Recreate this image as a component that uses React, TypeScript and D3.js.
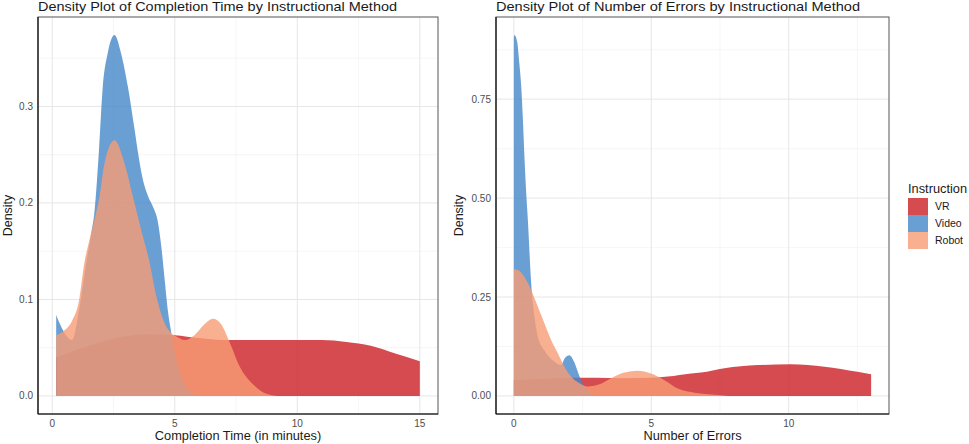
import * as d3 from 'd3';

// instruction groups, drawn in this order (later ones on top)
const groups = ['VR', 'Video', 'Robot'];
const groupColors = ['#cc1e24', '#4587c8', '#f79c74'];
const fillAlpha = 0.8;

// completion time densities
const timeVRX = [0.16, 1, 2, 3, 4, 5, 6, 7, 8, 9, 10, 11, 12, 13, 14, 15];
const timeVRY = [0.04, 0.048, 0.056, 0.062, 0.064, 0.063, 0.06, 0.058, 0.058, 0.058, 0.058, 0.058, 0.056, 0.052, 0.044, 0.036];

const timeVideoX = [0.16, 0.4, 0.81, 1.1, 1.4, 1.6, 1.72, 1.9, 2.06, 2.26, 2.54, 2.81, 3.09, 3.36, 3.5, 3.7, 3.91, 4.11, 4.32, 4.45, 4.59, 4.73, 4.84, 5.0, 5.3, 5.6, 5.9, 7.0, 9.3];
const timeVideoY = [0.084, 0.07, 0.058, 0.09, 0.14, 0.17, 0.19, 0.252, 0.32, 0.355, 0.374, 0.355, 0.32, 0.276, 0.252, 0.224, 0.207, 0.196, 0.179, 0.155, 0.12, 0.086, 0.068, 0.045, 0.018, 0.005, 0.001, 0, 0];

const timeRobotX = [0.16, 0.5, 0.81, 1.1, 1.31, 1.52, 1.79, 1.93, 2.13, 2.54, 2.95, 3.29, 3.63, 3.98, 4.25, 4.59, 4.86, 5.1, 5.4, 5.8, 6.2, 6.56, 6.9, 7.25, 7.66, 8.2, 8.77, 9.2];
const timeRobotY = [0.063, 0.068, 0.078, 0.1, 0.138, 0.162, 0.19, 0.207, 0.241, 0.265, 0.241, 0.207, 0.172, 0.1375, 0.103, 0.075, 0.065, 0.061, 0.058, 0.063, 0.074, 0.08, 0.074, 0.055, 0.03, 0.012, 0.002, 0];

// number of errors densities
const errVRX = [0, 1, 2, 2.56, 3, 4, 5, 5.6, 6.45, 6.81, 7.66, 8.87, 10.08, 11.3, 12.5, 13];
const errVRY = [0.04, 0.043, 0.046, 0.046, 0.046, 0.045, 0.046, 0.049, 0.057, 0.059, 0.07, 0.078, 0.08, 0.074, 0.061, 0.055];

const errVideoX = [0, 0.02, 0.12, 0.2, 0.27, 0.33, 0.39, 0.45, 0.51, 0.63, 0.75, 0.87, 1.1, 1.47, 1.72, 1.85, 2.02, 2.2, 2.39, 2.5, 2.7, 3.0, 3.3, 5, 7.85];
const errVideoY = [0.905, 0.912, 0.895, 0.84, 0.78, 0.697, 0.596, 0.512, 0.444, 0.285, 0.2, 0.15, 0.116, 0.087, 0.078, 0.095, 0.103, 0.085, 0.049, 0.032, 0.012, 0.002, 0, 0, 0];

const errRobotX = [0, 0.02, 0.15, 0.39, 0.63, 0.87, 1.11, 1.36, 1.6, 1.84, 2.08, 2.39, 2.69, 3.05, 3.54, 4.02, 4.5, 4.99, 5.48, 5.96, 6.45, 6.8, 7.3, 7.8];
const errRobotY = [0.318, 0.32, 0.318, 0.3, 0.268, 0.226, 0.184, 0.141, 0.108, 0.074, 0.049, 0.032, 0.024, 0.028, 0.045, 0.059, 0.064, 0.057, 0.04, 0.019, 0.01, 0.006, 0.003, 0];

// axis ticks
const timeXTicks = [0, 5, 10, 15];
const timeYTicks = [0, 0.1, 0.2, 0.3];
const errXTicks = [0, 5, 10];
const errYTicks = [0, 0.25, 0.5, 0.75];

const FONT = '"Liberation Sans", Arial, sans-serif';
const W = 969;
const H = 444;

type Pt = [number, number];

const zip = (xs: number[], ys: number[]): Pt[] => xs.map((x, i) => [x, ys[i]]);

// ggplot style 5% expansion
const expand = (lo: number, hi: number): [number, number] => {
  const pad = (hi - lo) * 0.05;
  return [lo - pad, hi + pad];
};

// minor breaks halfway between majors, kept inside the domain
const minors = (ticks: number[], domain: [number, number]) => {
  const step = ticks[1] - ticks[0];
  const out: number[] = [];
  for (let v = ticks[0] - step / 2; v <= domain[1]; v += step) {
    if (v >= domain[0]) out.push(v);
  }
  return out;
};

type PanelProps = {
  x0: number;
  x1: number;
  y0: number;
  y1: number;
  title: string;
  titleWidth: number;
  xLabel: string;
  series: Pt[][];
  xTicks: number[];
  yTicks: number[];
  yFormat: string;
  yTitleX: number;
};

function Panel({ x0, x1, y0, y1, title, titleWidth, xLabel, series, xTicks, yTicks, yFormat, yTitleX }: PanelProps) {
  const all = series.flat();
  const xExt = d3.extent(all, (d) => d[0]) as [number, number];
  const yMax = d3.max(all, (d) => d[1]) as number;
  const xDom = expand(xExt[0], xExt[1]);
  const yDom = expand(0, yMax);

  const xScale = d3.scaleLinear().domain(xDom).range([x0, x1]);
  const yScale = d3.scaleLinear().domain(yDom).range([y1, y0]);

  const areaGen = d3
    .area<Pt>()
    .x((d) => xScale(d[0]))
    .y0(() => yScale(0))
    .y1((d) => yScale(d[1]))
    .curve(d3.curveMonotoneX);

  const fmt = d3.format(yFormat);

  return (
    <g>
      {/* minor grid */}
      {minors(xTicks, xDom).map((v) => (
        <line key={'mx' + v} x1={xScale(v)} x2={xScale(v)} y1={y0} y2={y1} stroke='#f0f0f0' strokeWidth={0.6} />
      ))}
      {minors(yTicks, yDom).map((v) => (
        <line key={'my' + v} x1={x0} x2={x1} y1={yScale(v)} y2={yScale(v)} stroke='#f0f0f0' strokeWidth={0.6} />
      ))}
      {/* major grid */}
      {xTicks.map((v) => (
        <line key={'gx' + v} x1={xScale(v)} x2={xScale(v)} y1={y0} y2={y1} stroke='#e6e6e6' strokeWidth={1} />
      ))}
      {yTicks.map((v) => (
        <line key={'gy' + v} x1={x0} x2={x1} y1={yScale(v)} y2={yScale(v)} stroke='#e6e6e6' strokeWidth={1} />
      ))}

      {series.map((pts, i) => (
        <path key={groups[i]} d={areaGen(pts) ?? ''} fill={groupColors[i]} fillOpacity={fillAlpha} />
      ))}

      {/* border */}
      <rect x={x0} y={y0} width={x1 - x0} height={y1 - y0} fill='none' stroke='#555' strokeWidth={1} />
      <line x1={x0} x2={x0} y1={y0} y2={y1} stroke='#111' strokeWidth={1.2} />
      <line x1={x0} x2={x1} y1={y1} y2={y1} stroke='#111' strokeWidth={1.2} />

      {/* tick labels */}
      {xTicks.map((v) => (
        <text key={'tx' + v} x={xScale(v)} y={427} textAnchor='middle' fontSize={10} fill='#4d4d4d'>
          {v}
        </text>
      ))}
      {yTicks.map((v) => (
        <text key={'ty' + v} x={x0 - 5} y={yScale(v) + 3.5} textAnchor='end' fontSize={10} fill='#4d4d4d'>
          {fmt(v)}
        </text>
      ))}

      <text x={x0} y={10.5} fontSize={13.5} fill='#1a1a1a' textLength={titleWidth} lengthAdjust='spacingAndGlyphs'>
        {title}
      </text>
      <text x={(x0 + x1) / 2} y={440} textAnchor='middle' fontSize={12.8} fill='#1a1a1a'>
        {xLabel}
      </text>
      <text transform={`translate(${yTitleX},${(y0 + y1) / 2}) rotate(-90)`} textAnchor='middle' fontSize={12.5} fill='#1a1a1a'>
        Density
      </text>
    </g>
  );
}

export default function App() {
  const timeSeries = [zip(timeVRX, timeVRY), zip(timeVideoX, timeVideoY), zip(timeRobotX, timeRobotY)];
  const errSeries = [zip(errVRX, errVRY), zip(errVideoX, errVideoY), zip(errRobotX, errRobotY)];

  const legendY = d3.scaleBand<string>().domain(groups).range([198, 249]);

  return (
    <div style={{ position: 'absolute', left: 0, top: 0 }}>
      <svg width={W} height={H} style={{ display: 'block', fontFamily: FONT }}>
        <rect width={W} height={H} fill='#fff' />
        <Panel
          x0={38}
          x1={438}
          y0={17}
          y1={414}
          title='Density Plot of Completion Time by Instructional Method'
          titleWidth={359}
          xLabel='Completion Time (in minutes)'
          series={timeSeries}
          xTicks={timeXTicks}
          yTicks={timeYTicks}
          yFormat='.1f'
          yTitleX={11.5}
        />
        <Panel
          x0={496}
          x1={889}
          y0={17}
          y1={414}
          title='Density Plot of Number of Errors by Instructional Method'
          titleWidth={364}
          xLabel='Number of Errors'
          series={errSeries}
          xTicks={errXTicks}
          yTicks={errYTicks}
          yFormat='.2f'
          yTitleX={463}
        />

        {/* legend */}
        <text x={908} y={193} fontSize={12.8} fill='#1a1a1a'>
          Instruction
        </text>
        {groups.map((g, i) => (
          <g key={g}>
            <rect x={908} y={legendY(g)} width={20} height={legendY.bandwidth()} fill={groupColors[i]} fillOpacity={fillAlpha} />
            <text x={935} y={(legendY(g) ?? 0) + legendY.bandwidth() / 2 + 3.8} fontSize={10.5} fill='#1a1a1a'>
              {g}
            </text>
          </g>
        ))}
      </svg>
    </div>
  );
}
